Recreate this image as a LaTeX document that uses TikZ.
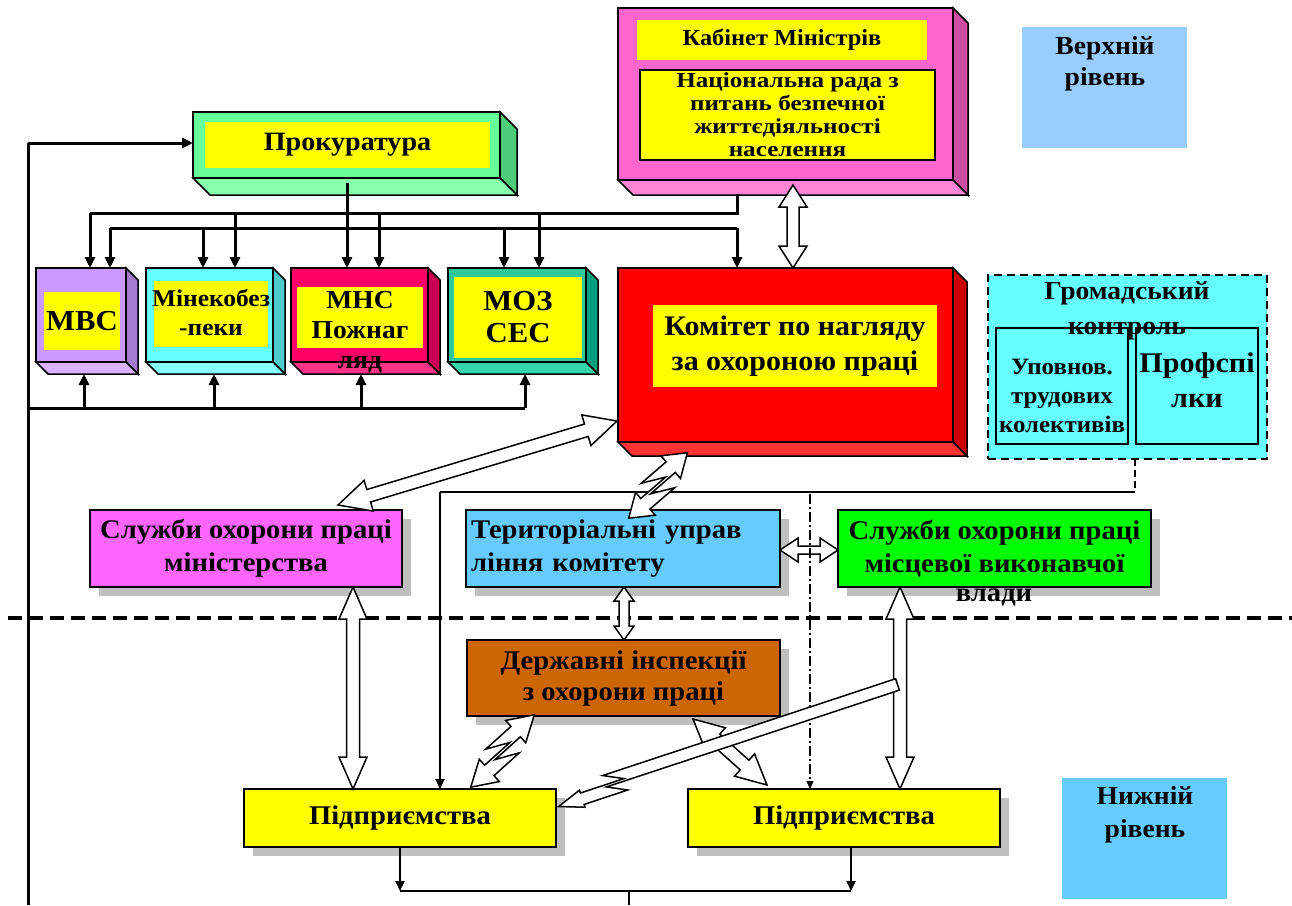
\documentclass[tikz,border=0pt]{standalone}
\usepackage{fontspec}
\setmainfont[FakeStretch=1.06]{Liberation Serif}
\newfontfamily\wideserif[FakeStretch=1.18]{Liberation Serif}
\usetikzlibrary{calc,arrows.meta,shadows}
\newcommand\fsz[2]{\fontsize{#1}{#2}\selectfont}
\definecolor{cabF}{HTML}{FF66CC}\definecolor{cabS}{HTML}{CC4FA3}\definecolor{cabB}{HTML}{FF85D6}
\definecolor{prkF}{HTML}{66FF99}\definecolor{prkS}{HTML}{4DCC7A}\definecolor{prkB}{HTML}{88FFAA}
\definecolor{mvsF}{HTML}{CC99FF}\definecolor{mvsS}{HTML}{A37ACC}\definecolor{mvsB}{HTML}{D9B3FF}
\definecolor{minF}{HTML}{66FFFF}\definecolor{minS}{HTML}{4DCCCC}\definecolor{minB}{HTML}{88FFFF}
\definecolor{mnsF}{HTML}{FF0066}\definecolor{mnsS}{HTML}{CC0052}\definecolor{mnsB}{HTML}{FF3385}
\definecolor{mozF}{HTML}{2EC99A}\definecolor{mozS}{HTML}{00A07E}\definecolor{mozB}{HTML}{33D6AA}
\definecolor{komF}{HTML}{FF0000}\definecolor{komS}{HTML}{CC0000}\definecolor{komB}{HTML}{FF3333}
\definecolor{gromF}{HTML}{66FFFF}
\definecolor{verhF}{HTML}{99CCFF}\definecolor{nyzhF}{HTML}{66CCFF}
\definecolor{slminF}{HTML}{FF66FF}\definecolor{terrF}{HTML}{66CCFF}\definecolor{slmisF}{HTML}{00FF00}
\definecolor{derzhF}{HTML}{CC6600}\definecolor{ylw}{HTML}{FFFF00}

\makeatletter
\newcommand\setarrowgeom[2]{%
  \pgfmathanglebetweenpoints{\pgfpointanchor{#1}{center}}{\pgfpointanchor{#2}{center}}%
  \xdef\arang{\pgfmathresult}%
  \pgfpointdiff{\pgfpointanchor{#1}{center}}{\pgfpointanchor{#2}{center}}%
  \pgfmathveclen{\pgf@x}{\pgf@y}%
  \xdef\arlen{\pgfmathresult}%
}
\makeatother
% double block arrow: from, to, head length, head half width, shaft half width
\newcommand\dblarrow[5]{%
  \setarrowgeom{#1}{#2}%
  \begin{scope}[shift={(#1)},rotate=\arang]
    \filldraw[barrow] (0,0) -- (#3,#4) -- (#3,#5) -- (\arlen-#3,#5) -- (\arlen-#3,#4) -- (\arlen,0)
      -- (\arlen-#3,-#4) -- (\arlen-#3,-#5) -- (#3,-#5) -- (#3,-#4) -- cycle;
  \end{scope}}
% double lightning arrow: from, to, h, H, s, fraction of zig
\newcommand\ltarrow[6]{%
  \setarrowgeom{#1}{#2}%
  \pgfmathsetmacro\zm{#6*\arlen}\pgfmathsetmacro\zo{0.8*#5}\pgfmathsetmacro\zg{1.6*#5}%
  \begin{scope}[shift={(#1)},rotate=\arang]
    \filldraw[barrow] (0,\zo) -- (#3,\zo+#4) -- (#3,\zo+#5) -- (\zm+\zg,\zo+#5) -- (\zm-\zg,#5-\zo)
      -- (\arlen-#3,#5-\zo) -- (\arlen-#3,#4-\zo) -- (\arlen,-\zo) -- (\arlen-#3,-#4-\zo)
      -- (\arlen-#3,-#5-\zo) -- (\zm-\zg,-#5-\zo) -- (\zm+\zg,\zo-#5) -- (#3,\zo-#5) -- (#3,\zo-#4) -- cycle;
  \end{scope}}
% single lightning arrow
\newcommand\ltsarrow[6]{%
  \setarrowgeom{#1}{#2}%
  \pgfmathsetmacro\zm{#6*\arlen}\pgfmathsetmacro\zo{0.8*#5}\pgfmathsetmacro\zg{1.6*#5}%
  \begin{scope}[shift={(#1)},rotate=\arang]
    \filldraw[barrow] (0,\zo+#5) -- (\zm+\zg,\zo+#5) -- (\zm-\zg,#5-\zo)
      -- (\arlen-#3,#5-\zo) -- (\arlen-#3,#4-\zo) -- (\arlen,-\zo) -- (\arlen-#3,-#4-\zo)
      -- (\arlen-#3,-#5-\zo) -- (\zm-\zg,-#5-\zo) -- (\zm+\zg,\zo-#5) -- (0,\zo-#5) -- cycle;
  \end{scope}}
\newcommand\faces[4]{%
  \filldraw[face,fill=#3] (#1.north east) -- ++(#2,#2) -- ($(#1.south east)+(#2,#2)$) -- (#1.south east) -- cycle;
  \filldraw[face,fill=#4] (#1.south west) -- (#1.south east) -- ($(#1.south east)+(#2,#2)$) -- ($(#1.south west)+(#2,#2)$) -- cycle;}

\tikzset{
  face/.style={draw=black, line width=1.5pt, outer sep=0pt, inner sep=0pt},
  inbox/.style={fill=ylw, outer sep=0pt, inner sep=0pt, align=center},
  flat/.style={draw=black, line width=2pt, outer sep=0pt, inner sep=0pt, align=center,
    font=\bfseries\fsz{27}{33},
    drop shadow={shadow xshift=9pt, shadow yshift=-9pt, fill=black!25, opacity=1}},
  txt/.style={align=center, inner sep=0pt, outer sep=0pt},
  conn/.style={line width=3pt, -{Triangle[length=11pt,width=10pt]}},
  conn2/.style={line width=2.2pt, -{Triangle[length=10pt,width=9pt]}},
  bus/.style={line width=3pt},
  barrow/.style={fill=white, draw=black, line width=1.5pt, line join=miter},
  sepline/.style={line width=3.2pt, dash pattern=on 14pt off 7pt},
}

\begin{document}
\begin{tikzpicture}[x=1pt,y=-1pt]
\useasboundingbox (0,0) rectangle (1292,905);

% level squares
\node[fill=verhF, anchor=north west, minimum width=165pt, minimum height=121pt, inner sep=0pt] (verh) at (1022,27) {};
\node[txt, font=\bfseries\fsz{26}{31}, anchor=north] (verhT) at (1105,36) {Верхній\\рівень};
\node[fill=nyzhF, anchor=north west, minimum width=165pt, minimum height=121pt, inner sep=0pt] (nyzh) at (1062,778) {};
\node[txt, font=\bfseries\fsz{26}{33}, anchor=north] (nyzhT) at (1145,786) {Нижній\\рівень};

% Cabinet
\node[face, fill=cabF, anchor=north west, minimum width=335pt, minimum height=172pt] (cab) at (618,8) {};
\faces{cab}{15}{cabS}{cabB}
\node[inbox, minimum width=290pt, minimum height=40pt, font=\bfseries\fsz{23}{26}] (cabA) at (782,40) {Кабінет Міністрів};
\node[inbox, draw=black, line width=1.5pt, minimum width=295pt, minimum height=90pt, font=\wideserif\bfseries\fsz{21.3}{23}] (cabN) at (787.5,115) {Національна рада з\\питань безпечної\\життєдіяльності\\населення};

% Prokuratura
\node[face, fill=prkF, anchor=north west, minimum width=307pt, minimum height=66pt] (prok) at (193,112) {};
\faces{prok}{17}{prkS}{prkB}
\node[inbox, minimum width=285pt, minimum height=46pt, font=\bfseries\fsz{26.5}{30}] (prokin) at (347.5,145) {Прокуратура};

% small ministries
\node[face, fill=mvsF, anchor=north west, minimum width=90pt, minimum height=94pt] (mvs) at (36,268) {};
\faces{mvs}{12}{mvsS}{mvsB}
\node[inbox, minimum width=76pt, minimum height=58pt, font=\bfseries\fsz{29}{32}] (mvsin) at (82,321) {МВС};

\node[face, fill=minF, anchor=north west, minimum width=127pt, minimum height=94pt] (mine) at (146,268) {};
\faces{mine}{12}{minS}{minB}
\node[inbox, minimum width=114pt, minimum height=66pt] (minein) at (211,314) {};
\node[txt, font=\bfseries\fsz{24}{29}] (mineT) at (211,313) {Мінекобез\\-пеки};

\node[face, fill=mnsF, anchor=north west, minimum width=137pt, minimum height=94pt] (mns) at (291,268) {};
\faces{mns}{12}{mnsS}{mnsB}
\node[inbox, minimum width=126pt, minimum height=61pt] (mnsin) at (360,317.5) {};
\node[txt, font=\bfseries\fsz{26}{30}] (mnsT) at (360,332) {МНС\\Пожнаг\\ляд};

\node[face, fill=mozF, anchor=north west, minimum width=138pt, minimum height=94pt] (moz) at (448,268) {};
\faces{moz}{12}{mozS}{mozB}
\node[inbox, minimum width=128pt, minimum height=81pt, font=\bfseries\fsz{29}{32}] (mozin) at (518,317.5) {МОЗ\\СЕС};

% Committee
\node[face, fill=komF, anchor=north west, minimum width=335pt, minimum height=174pt] (kom) at (618,268) {};
\faces{kom}{14}{komS}{komB}
\node[inbox, minimum width=284pt, minimum height=82pt, font=\bfseries\fsz{28.3}{35}] (komin) at (795,346) {Комітет по нагляду\\за охороною праці};

% Public control
\node[draw=black, line width=2pt, dash pattern=on 8pt off 5pt, fill=gromF, anchor=north west, minimum width=279pt, minimum height=184pt, inner sep=0pt, outer sep=0pt] (grom) at (988,275) {};
\node[draw=black, line width=1.5pt, fill=gromF, minimum width=132pt, minimum height=116pt, inner sep=0pt, outer sep=0pt] (gromA) at (1062,386) {};
\node[draw=black, line width=1.5pt, fill=gromF, minimum width=122pt, minimum height=116pt, inner sep=0pt, outer sep=0pt] (gromB) at (1197,386) {};
\node[txt, font=\bfseries\fsz{26}{35}] (gromT) at (1127,311) {Громадський\\контроль};
\node[txt, font=\bfseries\fsz{23.5}{29}] (gromAT) at (1062,396) {Уповнов.\\трудових\\колективів};
\node[txt, font=\bfseries\fsz{28.5}{35}] (gromBT) at (1197,380) {Профспі\\лки};

% flat boxes
\node[flat, fill=slminF, minimum width=312pt, minimum height=77pt] (slmin) at (246,548.5) {Служби охорони праці\\міністерства};
\node[flat, fill=terrF, minimum width=314pt, minimum height=77pt, text width=304pt, align=left] (terr) at (623,548.5) {Територіальні управ\\ління комітету};
\node[flat, fill=slmisF, minimum width=313pt, minimum height=77pt] (slmis) at (994.5,548.5) {Служби охорони праці\\місцевої виконавчої};
\node[txt, font=\bfseries\fsz{27}{33}] (vlady) at (994,598) {влади};
\node[flat, fill=derzhF, minimum width=313pt, minimum height=76pt, font=\bfseries\fsz{27}{31}] (derzh) at (623.5,678) {Державні інспекції\\з охорони праці};
\node[flat, fill=ylw, minimum width=312pt, minimum height=58pt] (pidp1) at (400,818) {Підприємства};
\node[flat, fill=ylw, minimum width=312pt, minimum height=58pt] (pidp2) at (844,818) {Підприємства};

% separator
\draw[sepline] (8,618) -- (1292,618);

% left line to prokuratura
\coordinate (L1) at (28,905); \coordinate (L2) at (28,143);
\draw[bus] (L1) -- (L2);
\draw[conn] (L2) -- (L2 -| prok.west);

% bus 1 from cabinet
\coordinate (c0) at (737,194);
\coordinate (t1a) at (90,213); \coordinate (t1b) at (235,213); \coordinate (t1c) at (379,213);
\coordinate (t1d) at (539,213); \coordinate (t1e) at (737,213);
\draw[bus, line join=miter] (c0) -- (t1e) -- (t1a);
\draw[conn] (t1a) -- (t1a |- mvs.north);
\draw[conn] (t1b) -- (t1b |- mine.north);
\draw[conn] (t1c) -- (t1c |- mns.north);
\draw[conn] (t1d) -- (t1d |- moz.north);
% bus 2
\coordinate (t2a) at (110,228); \coordinate (t2b) at (203,228); \coordinate (t2c) at (504,228);
\coordinate (t2d) at (737,228);
\draw[bus] (t2a) -- (t2d);
\draw[conn] (t2a) -- (t2a |- mvs.north);
\draw[conn] (t2b) -- (t2b |- mine.north);
\draw[conn] (t2c) -- (t2c |- moz.north);
\draw[conn] (t2d) -- (t2d |- kom.north);
% prokuratura down
\coordinate (pk) at (347,183);
\draw[conn] (pk) -- (pk |- mns.north);
% bottom bus
\coordinate (b0) at (28,408);
\coordinate (u1) at (84,408); \coordinate (u2) at (214,408); \coordinate (u3) at (361,408); \coordinate (u4) at (525,408);
\draw[bus] (b0) -- (u4);
\draw[conn] (u1) -- ($(u1 |- mvs.south)+(0,12)$);
\draw[conn] (u2) -- ($(u2 |- mine.south)+(0,12)$);
\draw[conn] (u3) -- ($(u3 |- mns.south)+(0,12)$);
\draw[conn] (u4) -- ($(u4 |- moz.south)+(0,12)$);

% public control link
\coordinate (g1) at (1135,492); \coordinate (g2) at (440,492);
\draw[line width=1.8pt, dash pattern=on 7pt off 4pt] (g1 |- grom.south) -- (g1);
\draw[line width=2.4pt] (g1) -- (g2);
\draw[conn2] (g2) -- (g2 |- pidp1.north);

% bottom links
\coordinate (q1) at (400,891); \coordinate (q2) at (851,891); \coordinate (q3) at (629,891); \coordinate (q4) at (629,905);
\draw[conn2] (q1 |- pidp1.south) -- (q1);
\draw[conn2] (q2 |- pidp2.south) -- (q2);
\draw[line width=2.2pt] (q1) -- (q2);
\draw[line width=2.2pt] (q3) -- (q4);

% block arrows
\coordinate (a1s) at (793,185); \coordinate (a1e) at (793,268);
\coordinate (a2s) at (617,421); \coordinate (a2e) at (338,505);
\coordinate (a3s) at (691,457); \coordinate (a3e) at (625,514);
\coordinate (a4s) at (780,550); \coordinate (a4e) at (838,550);
\coordinate (a5s) at (624,587); \coordinate (a5e) at (624,640);
\coordinate (a6s) at (353,587); \coordinate (a6e) at (353,789);
\coordinate (a7s) at (900,587); \coordinate (a7e) at (900,789);
\coordinate (a8s) at (538,719); \coordinate (a8e) at (467,783);
\coordinate (a9s) at (693,719); \coordinate (a9e) at (767,785);
\coordinate (a10s) at (899,689); \coordinate (a10e) at (557,802);

\dblarrow{a1s}{a1e}{22}{14}{6}
\dblarrow{a2s}{a2e}{32}{16}{6.5}
\ltarrow{a3s}{a3e}{22}{15}{7}{0.5}
\dblarrow{a4s}{a4e}{18}{12}{4}
\dblarrow{a5s}{a5e}{14}{10}{5}
\dblarrow{a6s}{a6e}{32}{14}{6.5}
\dblarrow{a7s}{a7e}{32}{14}{6.5}
\ltarrow{a8s}{a8e}{25}{15}{7}{0.5}
\dblarrow{a9s}{a9e}{30}{15}{6.5}

% dash-dot line
\coordinate (dd) at (810,494);
\draw[line width=1.3pt, dash pattern=on 10pt off 3pt on 2pt off 3pt, -{Triangle[length=8pt,width=7pt]}] (dd) -- (dd |- pidp2.north);

\ltsarrow{a10s}{a10e}{25}{9}{6}{0.83}
\end{tikzpicture}
\end{document}
